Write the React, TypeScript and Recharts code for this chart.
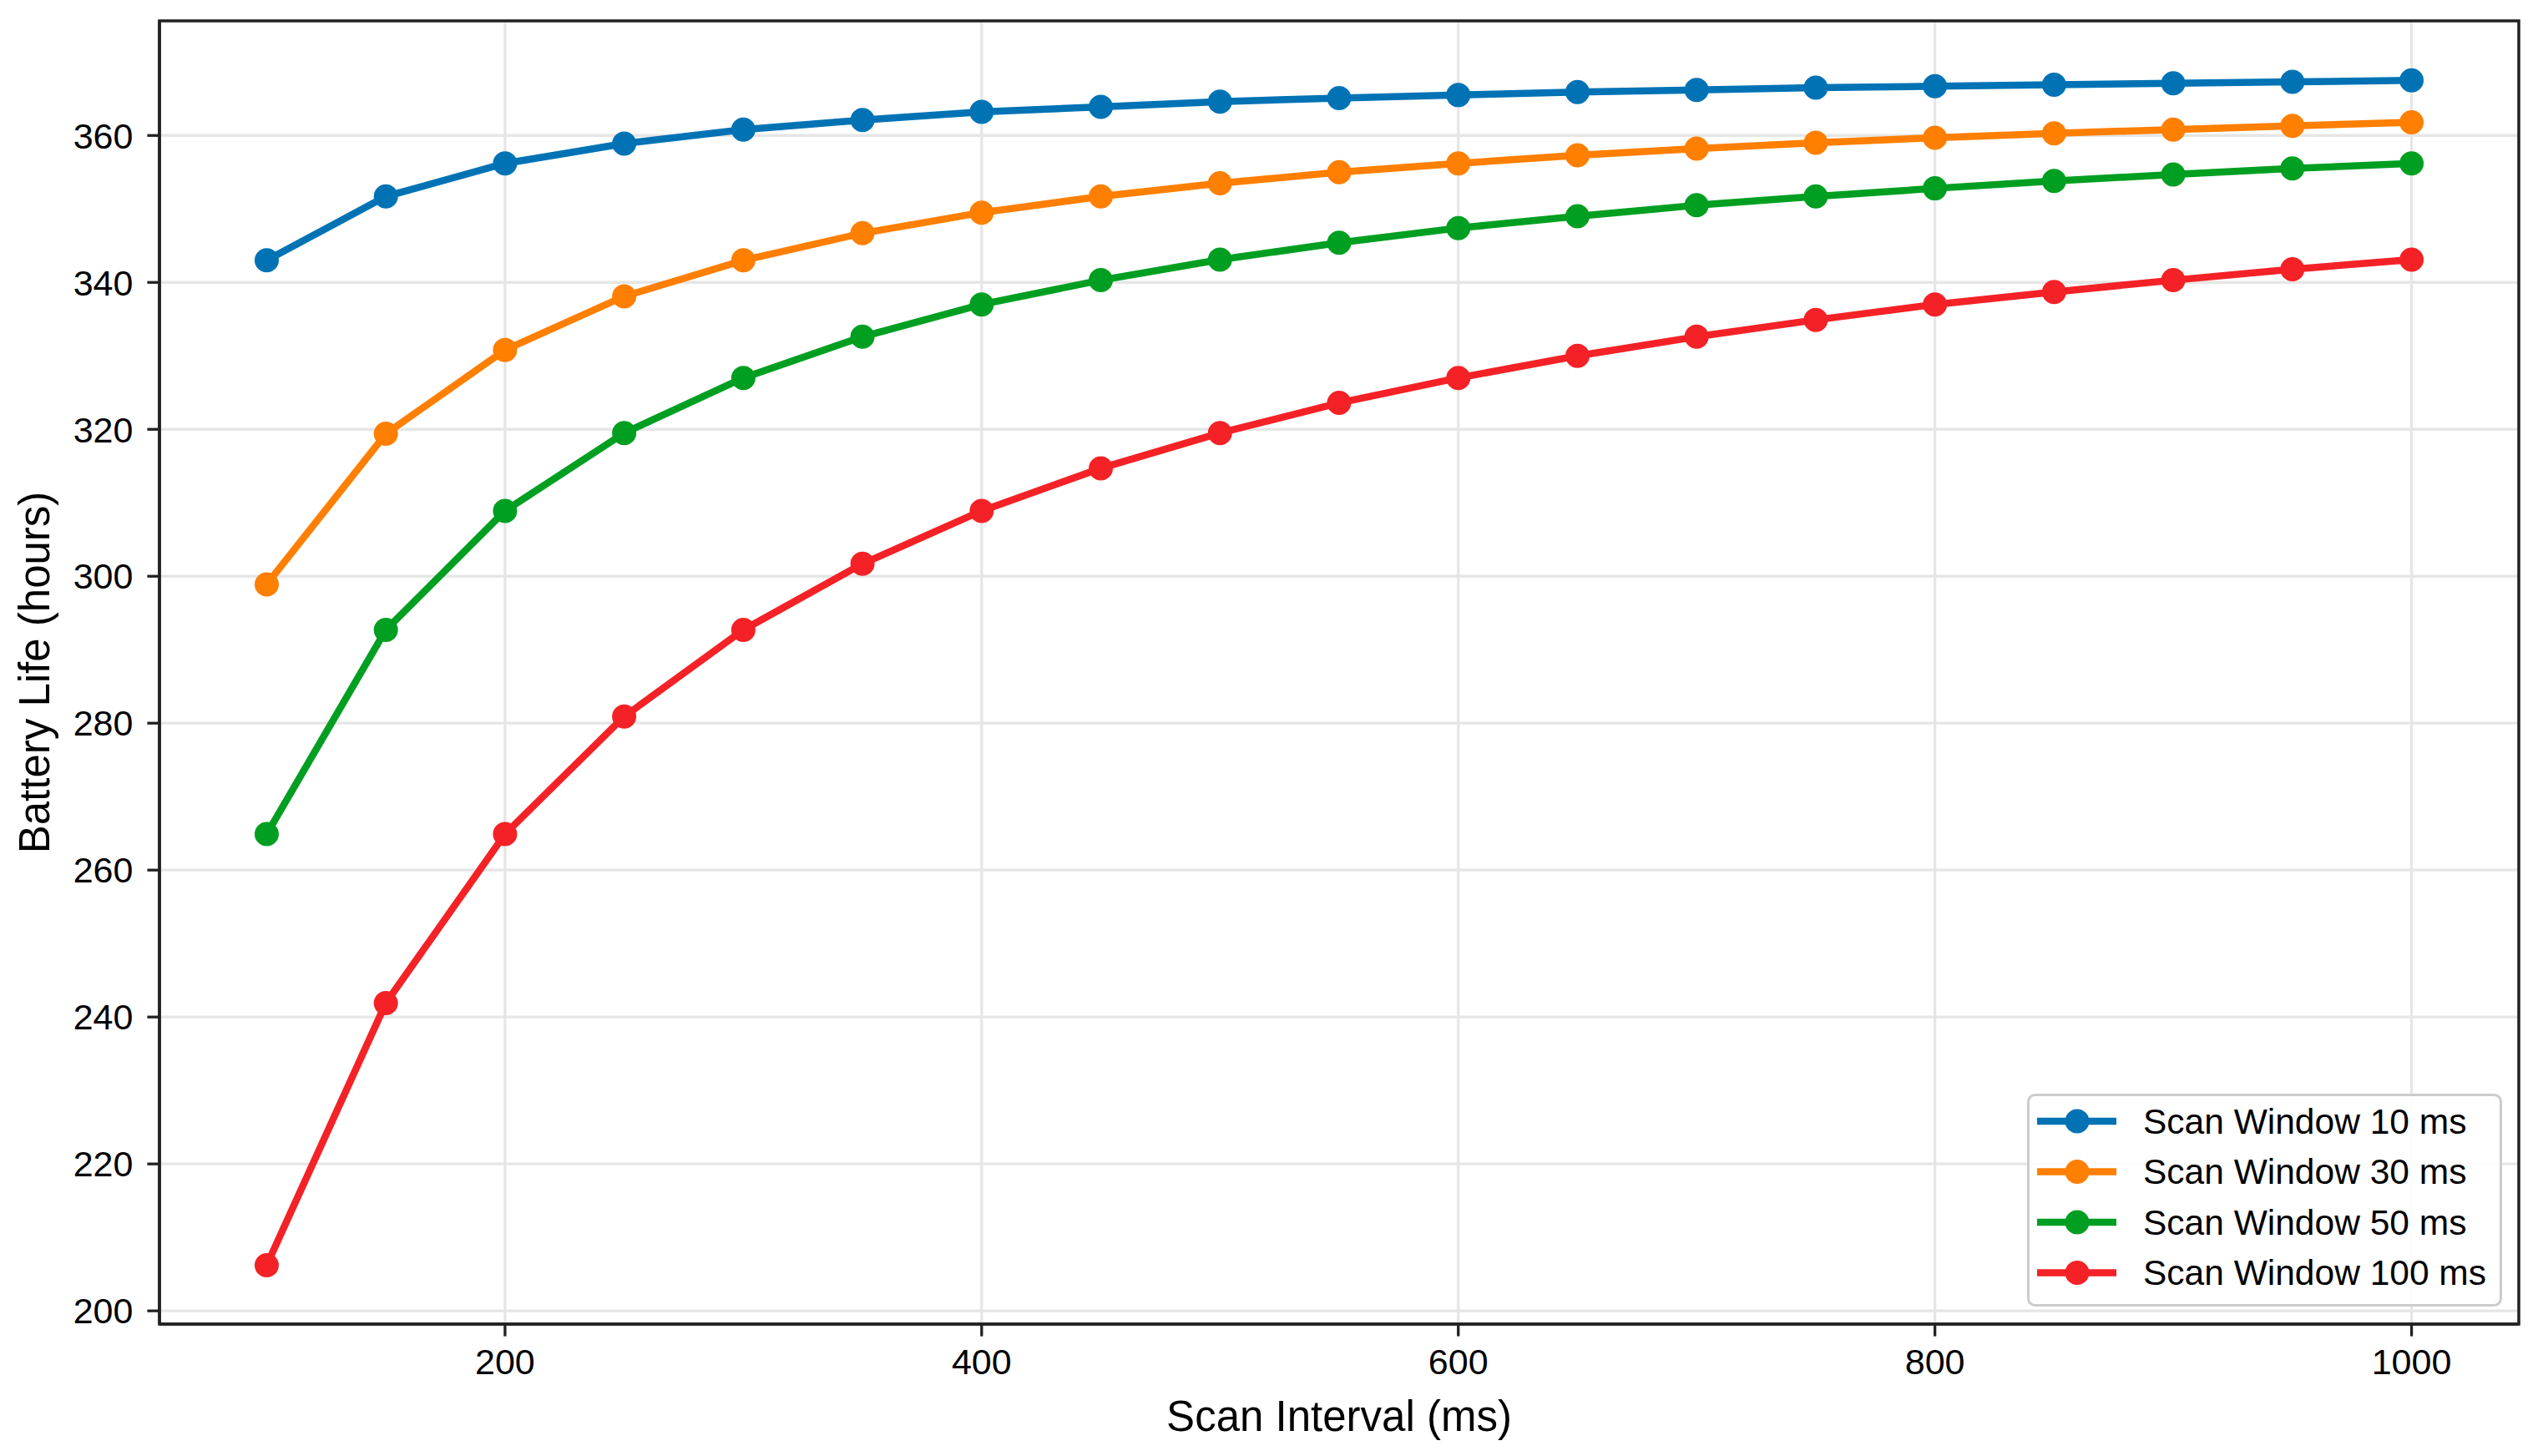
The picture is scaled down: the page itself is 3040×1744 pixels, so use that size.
import { LineChart, Line, XAxis, YAxis, CartesianGrid, Legend, ReferenceArea } from "recharts";

const FONT = '"Liberation Sans", Arial, Helvetica, sans-serif';

const scanInterval = [100, 150, 200, 250, 300, 350, 400, 450, 500, 550, 600, 650, 700, 750, 800, 850, 900, 950, 1000];

// battery life in hours per scan window
const window10 = [343.0, 351.7, 356.2, 358.9, 360.8, 362.1, 363.2, 363.9, 364.6, 365.1, 365.5, 365.9, 366.2, 366.5, 366.7, 366.9, 367.1, 367.3, 367.5];
const window30 = [298.9, 319.4, 330.8, 338.1, 343.0, 346.7, 349.5, 351.7, 353.5, 355.0, 356.2, 357.3, 358.2, 359.0, 359.7, 360.3, 360.8, 361.3, 361.8];
const window50 = [264.9, 292.7, 308.9, 319.5, 327.0, 332.6, 337.0, 340.3, 343.1, 345.4, 347.4, 349.0, 350.5, 351.7, 352.8, 353.8, 354.7, 355.5, 356.2];
const window100 = [206.2, 241.9, 264.9, 280.9, 292.7, 301.7, 308.9, 314.7, 319.5, 323.6, 327.0, 330.0, 332.6, 334.9, 337.0, 338.7, 340.3, 341.8, 343.1];

const xTicks = [200, 400, 600, 800, 1000];
const yTicks = [200, 220, 240, 260, 280, 300, 320, 340, 360];

const series = [
  { key: "w10", name: "Scan Window 10 ms", color: "#0173B5", values: window10 },
  { key: "w30", name: "Scan Window 30 ms", color: "#FF7F00", values: window30 },
  { key: "w50", name: "Scan Window 50 ms", color: "#009F21", values: window50 },
  { key: "w100", name: "Scan Window 100 ms", color: "#F42226", values: window100 },
];

const data = scanInterval.map((x, i) => {
  const row: Record<string, number> = { x };
  series.forEach((s) => (row[s.key] = s.values[i]));
  return row;
});

const X_DOMAIN = [55, 1045];
const Y_DOMAIN = [198.2, 375.6];
const SPINE = "#222222";

// drawn in series order, not the sorted legend payload
const LegendBox = () => (
  <svg width={569} height={255} style={{ display: "block" }}>
    <rect x={1.5} y={1.5} width={566} height={252} rx={8} fill="rgba(255,255,255,0.85)" stroke="#cccccc" strokeWidth={3} />
    {series.map((s, i) => {
      const cy = 33 + i * 60.5;
      return (
        <g key={s.key}>
          <line x1={12} x2={107} y1={cy} y2={cy} stroke={s.color} strokeWidth={8.5} />
          <circle cx={60} cy={cy} r={14.5} fill={s.color} />
          <text x={139} y={cy} dominantBaseline="central" fontSize={42.5} fontFamily={FONT} fill="#000">
            {s.name}
          </text>
        </g>
      );
    })}
  </svg>
);

export default function App() {
  return (
    <div style={{ position: "absolute", left: 0, top: 0, background: "#fff" }}>
      <LineChart width={3040} height={1744} data={data} margin={{ top: 25, right: 23, bottom: 0, left: 0 }}>
        <CartesianGrid stroke="#e6e6e6" strokeWidth={3.3} />
        <XAxis
          dataKey="x"
          type="number"
          domain={X_DOMAIN}
          ticks={xTicks}
          allowDataOverflow
          height={158}
          tickSize={14.6}
          tickMargin={15}
          axisLine={{ stroke: SPINE, strokeWidth: 3.5 }}
          tickLine={{ stroke: SPINE, strokeWidth: 3.3 }}
          tick={{ fontSize: 43, fill: "#000", fontFamily: FONT }}
          label={{ value: "Scan Interval (ms)", position: "insideBottom", offset: 30, fontSize: 51, fill: "#000", fontFamily: FONT }}
        />
        <YAxis
          type="number"
          domain={Y_DOMAIN}
          ticks={yTicks}
          allowDataOverflow
          width={191}
          tickSize={14.6}
          tickMargin={17}
          axisLine={{ stroke: SPINE, strokeWidth: 3.5 }}
          tickLine={{ stroke: SPINE, strokeWidth: 3.3 }}
          tick={{ fontSize: 43, fill: "#000", fontFamily: FONT }}
          label={{
            value: "Battery Life (hours)",
            angle: -90,
            position: "insideLeft",
            offset: 41,
            fontSize: 51,
            fill: "#000",
            fontFamily: FONT,
            style: { textAnchor: "middle" },
          }}
        />
        <ReferenceArea
          x1={X_DOMAIN[0]}
          x2={X_DOMAIN[1]}
          y1={Y_DOMAIN[0]}
          y2={Y_DOMAIN[1]}
          fill="none"
          fillOpacity={0}
          stroke={SPINE}
          strokeWidth={3.5}
          ifOverflow="visible"
        />
        {series.map((s) => (
          <Line
            key={s.key}
            type="linear"
            dataKey={s.key}
            name={s.name}
            stroke={s.color}
            strokeWidth={8.5}
            dot={{ r: 13.5, fill: s.color, stroke: s.color, strokeWidth: 2 }}
            activeDot={false}
            isAnimationActive={false}
          />
        ))}
        <Legend
          layout="vertical"
          align="center"
          verticalAlign="middle"
          content={<LegendBox />}
          wrapperStyle={{ left: 2428, top: 1310, width: 569, height: 255 }}
        />
      </LineChart>
    </div>
  );
}
